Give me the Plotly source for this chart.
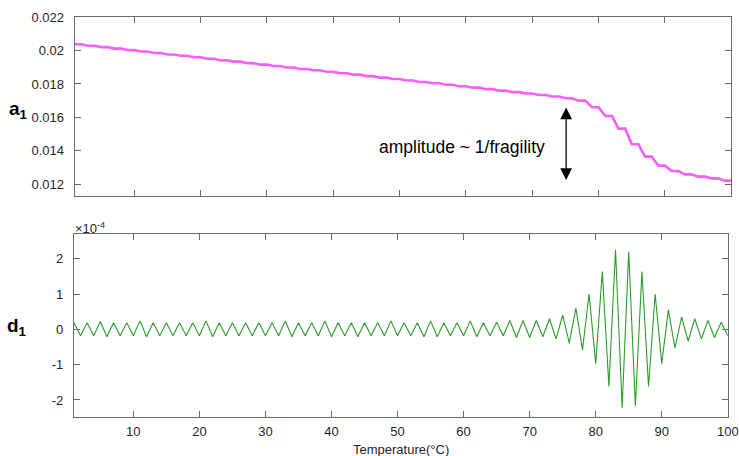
import plotly.graph_objects as go

temperature = list(range(1, 101))

# a1 approximation (pairs equal)
a1_values = [
    0.02038, 0.02038, 0.02029, 0.02029, 0.02021, 0.02021, 0.02012, 0.02012,
    0.02003, 0.02003, 0.01995, 0.01995, 0.01986, 0.01986, 0.01977, 0.01977,
    0.01969, 0.01969, 0.01960, 0.01960, 0.01951, 0.01951, 0.01942, 0.01942,
    0.01934, 0.01934, 0.01925, 0.01925, 0.01916, 0.01916, 0.01908, 0.01908,
    0.01899, 0.01899, 0.01890, 0.01890, 0.01882, 0.01882, 0.01873, 0.01873,
    0.01864, 0.01864, 0.01856, 0.01856, 0.01847, 0.01847, 0.01838, 0.01838,
    0.01830, 0.01830, 0.01821, 0.01821, 0.01812, 0.01812, 0.01804, 0.01804,
    0.01795, 0.01795, 0.01786, 0.01786, 0.01778, 0.01778, 0.01769, 0.01769,
    0.01760, 0.01760, 0.01751, 0.01751, 0.01743, 0.01743, 0.01734, 0.01734,
    0.01725, 0.01725, 0.01714, 0.01714, 0.01700, 0.01700, 0.01660, 0.01660,
    0.01608, 0.01608, 0.01532, 0.01532, 0.01438, 0.01438, 0.01364, 0.01364,
    0.01310, 0.01310, 0.01278, 0.01278, 0.01258, 0.01258, 0.01244, 0.01244,
    0.01234, 0.01234, 0.01220, 0.01220,
]

# d1 detail, in units of 1e-4
d1_values = [
    0.19, -0.18, 0.19, -0.18, 0.22, -0.21, 0.19, -0.18, 0.19, -0.18,
    0.24, -0.21, 0.19, -0.18, 0.19, -0.18, 0.19, -0.18, 0.19, -0.18,
    0.24, -0.21, 0.19, -0.18, 0.19, -0.18, 0.19, -0.18, 0.19, -0.18,
    0.19, -0.18, 0.24, -0.21, 0.19, -0.18, 0.19, -0.18, 0.24, -0.21,
    0.19, -0.18, 0.19, -0.21, 0.19, -0.18, 0.19, -0.18, 0.24, -0.18,
    0.19, -0.18, 0.19, -0.21, 0.24, -0.21, 0.19, -0.18, 0.19, -0.18,
    0.24, -0.21, 0.19, -0.18, 0.20, -0.18, 0.25, -0.23, 0.25, -0.23,
    0.25, -0.21, 0.30, -0.27, 0.40, -0.39, 0.60, -0.58, 1.00, -0.97,
    1.64, -1.62, 2.25, -2.22, 2.20, -2.17, 1.64, -1.62, 1.00, -0.97,
    0.55, -0.53, 0.35, -0.33, 0.30, -0.27, 0.25, -0.23, 0.20, -0.18,
]

x_ticks = [10, 20, 30, 40, 50, 60, 70, 80, 90, 100]
a1_ticks = [0.012, 0.014, 0.016, 0.018, 0.02, 0.022]
a1_ticktext = ["0.012", "0.014", "0.016", "0.018", "0.02", "0.022"]
d1_ticks = [-2, -1, 0, 1, 2]
d1_ticktext = ["-2", "-1", "0", "1", "2"]

W, H = 739, 456
FONT = "Liberation Sans, Arial, Helvetica, sans-serif"
TXT = "#262626"
LINE = "#6b6b6b"

fig = go.Figure()
fig.add_trace(go.Scatter(x=temperature, y=a1_values, mode="lines",
                         line=dict(color="#f75ff7", width=2.6),
                         xaxis="x", yaxis="y", showlegend=False))
fig.add_trace(go.Scatter(x=temperature, y=d1_values, mode="lines",
                         line=dict(color="#2b9b2b", width=1.1),
                         xaxis="x2", yaxis="y2", showlegend=False))

axcommon = dict(showgrid=False, zeroline=False, showline=True, linecolor=LINE,
                linewidth=1, mirror="ticks", ticks="inside", ticklen=6,
                tickcolor=LINE, tickwidth=1, automargin=False,
                tickfont=dict(family=FONT, size=13, color=TXT))

fig.update_layout(
    template="none",
    width=W, height=H,
    margin=dict(l=0, r=0, t=0, b=0, pad=0),
    paper_bgcolor="white", plot_bgcolor="white",
    xaxis=dict(domain=[74.6 / W, 731.3 / W], range=[1, 100], tickvals=x_ticks,
               showticklabels=False, anchor="y", **axcommon),
    yaxis=dict(domain=[1 - 196 / H, 1 - 17.3 / H], range=[0.01128, 0.022],
               tickvals=a1_ticks, ticktext=a1_ticktext, anchor="x",
               ticklabelstandoff=7, **axcommon),
    xaxis2=dict(domain=[73.9 / W, 727.8 / W], range=[1, 100], tickvals=x_ticks,
                anchor="y2", ticklabelstandoff=2, **axcommon),
    yaxis2=dict(domain=[1 - 417.3 / H, 1 - 234 / H], range=[-2.49, 2.70],
                tickvals=d1_ticks, ticktext=d1_ticktext, anchor="x2",
                ticklabelstandoff=7, **axcommon),
)

fig.add_annotation(x=18 / W, y=1 - 110 / H, xref="paper", yref="paper",
                   xanchor="center", yanchor="middle",
                   text="<b>a<sub>1</sub></b>", showarrow=False,
                   font=dict(family=FONT, size=19, color="black"))
fig.add_annotation(x=16.5 / W, y=1 - 327 / H, xref="paper", yref="paper",
                   xanchor="center", yanchor="middle",
                   text="<b>d<sub>1</sub></b>", showarrow=False,
                   font=dict(family=FONT, size=19, color="black"))
fig.add_annotation(x=73 / W, y=1 - 228 / H, xref="paper", yref="paper",
                   xanchor="left", yanchor="middle",
                   text="×10<sup>-4</sup>", showarrow=False,
                   font=dict(family=FONT, size=13, color=TXT))
fig.add_annotation(x=400.8 / W, y=1 - 449 / H, xref="paper", yref="paper",
                   xanchor="center", yanchor="middle",
                   text="Temperature(°C)", showarrow=False,
                   font=dict(family=FONT, size=13, color=TXT))
fig.add_annotation(x=547 / W, y=1 - 147 / H, xref="paper", yref="paper",
                   xanchor="right", yanchor="middle",
                   text="amplitude ~ 1/fragility", showarrow=False,
                   font=dict(family=FONT, size=17.5, color="black"))
# double-headed arrow
fig.add_annotation(x=75.1, y=0.01224, ax=75.1, ay=0.01668,
                   xref="x", yref="y", axref="x", ayref="y",
                   text="", showarrow=True, arrowside="end+start",
                   arrowhead=2, arrowsize=1.8, arrowwidth=1.3,
                   arrowcolor="black")

fig.write_html(
    "out.html",
    config={"displayModeBar": False},
    post_script="document.body.style.margin='0';document.body.style.overflow='hidden';",
)
